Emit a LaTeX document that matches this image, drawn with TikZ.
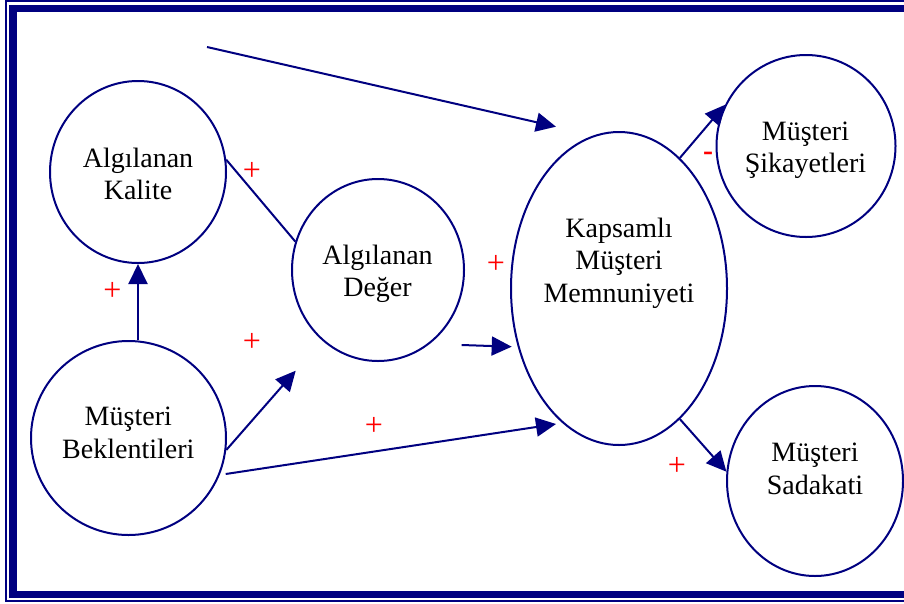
\documentclass[tikz,border=0pt]{standalone}
\usepackage{fontspec}
\setmainfont{Liberation Serif}
\usetikzlibrary{arrows.meta,shapes.geometric}
\definecolor{navy}{RGB}{0,0,128}
\begin{document}
\begin{tikzpicture}[x=1pt,y=-1pt,
  bub/.style={ellipse, draw=navy, line width=2pt, inner sep=0pt},
  lbl/.style={align=center, inner sep=0pt, font=\fontsize{28}{32.5}\selectfont},
  sgn/.style={text=red, inner sep=0pt, font=\fontsize{32}{32}\selectfont},
  link/.style={draw=navy, line width=2pt},
  arr/.style={link, -{Triangle[length=20pt,width=19pt]}},
]
\clip (0,0) rectangle (904,603);
\fill[white] (0,0) rectangle (904,603);

% double frame: thin outer rule, heavy inner rule
\draw[navy, line width=2pt] (6,1.2) rectangle (940,601.3);
\draw[navy, line width=7.5pt] (13,8.7) rectangle (940,594.7);

% bubbles
\node[bub, minimum width=176pt, minimum height=182pt] (kalite) at (138,172) {};
\node[bub, minimum width=195pt, minimum height=194pt] (bekl) at (128.5,438) {};
\node[bub, minimum width=172pt, minimum height=182pt] (deger) at (378,270) {};
\node[bub, minimum width=216pt, minimum height=313pt] (mem) at (619,288.5) {};
\node[bub, minimum width=179pt, minimum height=182pt] (sik) at (806,146) {};
\node[bub, minimum width=176pt, minimum height=190pt] (sad) at (815,481) {};

% bubble texts
\node[lbl] (tkalite) at (138,173.7) {Algılanan\\Kalite};
\node[lbl] (tdeger) at (377.5,273.8) {Algılanan\\Değer};
\node[lbl] (tbekl) at (128.3,433) {Müşteri\\Beklentileri};
\node[lbl] (tmem) at (619,263) {Kapsamlı\\Müşteri\\Memnuniyeti};
\node[lbl] (tsik) at (805.5,150) {Müşteri\\Şikayetleri};
\node[lbl] (tsad) at (815,469) {Müşteri\\Sadakati};

% free line ends
\coordinate (topstart) at (207,47);
\coordinate (topend) at (556,126.7);
\coordinate (bdend) at (295.7,370.7);
\coordinate (bmstart) at (225.7,474);
\coordinate (bmend) at (556,424);
\coordinate (dmstart) at (461.7,345);
\coordinate (dmend) at (511.7,346.7);

% connectors
\draw[arr] (topstart) -- (topend);
\draw[link] (kalite.8.5) -- (deger.161.6);
\draw[arr] (bekl.north -| kalite.south) -- (kalite.south);
\draw[arr] (bekl.-7) -- (bdend);
\draw[arr] (dmstart) -- (dmend);
\draw[arr] (bmstart) -- (bmend);
\draw[arr] (mem.65) -- (sik.153.6);
\draw[arr] (mem.-65) -- (sad.174.6);

% polarity signs
\node[sgn] (s1) at (252,171) {+};
\node[sgn] (s2) at (112.5,291) {+};
\node[sgn] (s3) at (252,342) {+};
\node[sgn] (s4) at (496,264) {+};
\node[sgn] (s5) at (374,426) {+};
\node[sgn, font=\fontsize{30}{30}\selectfont\bfseries] (s6) at (708,156) {-};
\node[sgn] (s7) at (677,466) {+};
\end{tikzpicture}
\end{document}
